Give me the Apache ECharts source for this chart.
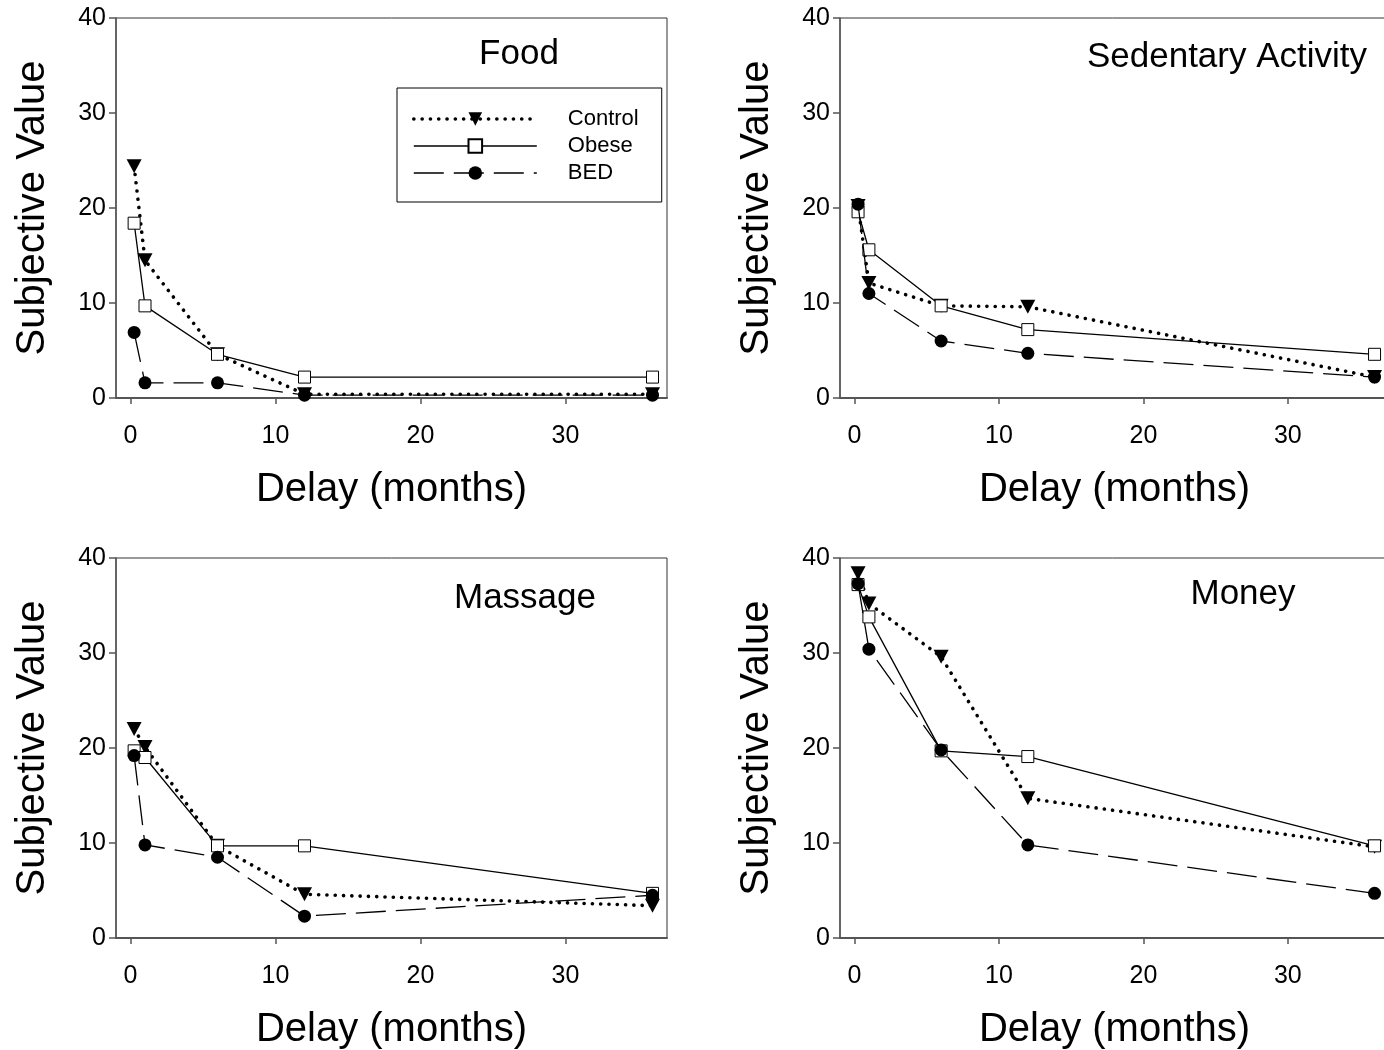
<!DOCTYPE html>
<html>
<head>
<meta charset="utf-8">
<script src="https://cdn.jsdelivr.net/npm/echarts@6/dist/echarts.min.js"></script>
<style>
html,body{margin:0;padding:0;background:#fff;}
#chart{width:1384px;height:1050px;}
</style>
</head>
<body>
<div id="chart"></div>
<script>
const delays = [0.25, 1, 6, 12, 36];
const xTicks = [0, 10, 20, 30];
const seriesNames = ['Control', 'Obese', 'BED'];
const panelTitles = ['Food', 'Sedentary Activity', 'Massage', 'Money'];

const foodControl = [24.4, 14.5, 4.6, 0.4, 0.4];
const foodObese = [18.4, 9.7, 4.6, 2.2, 2.2];
const foodBED = [6.9, 1.6, 1.6, 0.3, 0.3];

const sedControl = [20.2, 12.1, 9.7, 9.6, 2.2];
const sedObese = [19.6, 15.6, 9.7, 7.2, 4.6];
const sedBED = [20.4, 11.0, 6.0, 4.7, 2.2];

const massControl = [22.0, 20.1, 9.7, 4.6, 3.4];
const massObese = [19.7, 19.0, 9.7, 9.7, 4.7];
const massBED = [19.2, 9.8, 8.5, 2.3, 4.5];

const moneyControl = [38.4, 35.2, 29.6, 14.7, 9.6];
const moneyObese = [37.2, 33.8, 19.7, 19.1, 9.7];
const moneyBED = [37.3, 30.4, 19.8, 9.8, 4.7];

const panels = [
  [foodControl, foodObese, foodBED],
  [sedControl, sedObese, sedBED],
  [massControl, massObese, massBED],
  [moneyControl, moneyObese, moneyBED]
];

const FONT = 'Liberation Sans, Arial, sans-serif';
const gridBoxes = [
  {left: 116, top: 18, width: 551, height: 380},
  {left: 840, top: 18, width: 549, height: 380},
  {left: 116, top: 558, width: 551, height: 380},
  {left: 840, top: 558, width: 549, height: 380}
];
const titlePos = [[519, 54], [1227, 57], [525, 598], [1243, 594]];

const styles = [
  {symbol: 'triangle', symbolSize: [15, 14], symbolRotate: 180,
   itemStyle: {color: '#000', borderColor: '#000', borderWidth: 0},
   lineStyle: {color: '#000', width: 3.6, type: [0.1, 8.2], cap: 'round'}},
  {symbol: 'rect', symbolSize: 12, symbolRotate: 0,
   itemStyle: {color: '#fff', borderColor: '#000', borderWidth: 1},
   lineStyle: {color: '#000', width: 1.3, type: 'solid'}},
  {symbol: 'circle', symbolSize: 13, symbolRotate: 0,
   itemStyle: {color: '#000', borderColor: '#000', borderWidth: 0},
   lineStyle: {color: '#000', width: 1.3, type: [30, 10]}}
];

const grids = [], xAxes = [], yAxes = [], series = [], graphics = [];
gridBoxes.forEach((g, i) => {
  grids.push(Object.assign({show: true, borderColor: '#333', borderWidth: 1,
    backgroundColor: 'transparent', outerBoundsMode: 'none', containLabel: false}, g));
  xAxes.push({
    type: 'value', gridIndex: i, min: -1, max: 37,
    name: 'Delay (months)', nameLocation: 'middle', nameGap: 72,
    nameTextStyle: {fontFamily: FONT, fontSize: 40, color: '#000'},
    axisLine: {show: true, onZero: false, lineStyle: {color: '#555', width: 2}},
    axisTick: {show: true, inside: false, length: 6, customValues: xTicks, lineStyle: {color: '#555', width: 1.5}},
    axisLabel: {show: true, margin: 26, customValues: xTicks, fontFamily: FONT, fontSize: 25, color: '#000'},
    splitLine: {show: false}
  });
  yAxes.push({
    type: 'value', gridIndex: i, min: 0, max: 40, interval: 10,
    name: 'Subjective Value', nameLocation: 'middle', nameGap: 63, nameRotate: 90,
    nameTextStyle: {fontFamily: FONT, fontSize: 40, color: '#000'},
    axisLine: {show: true, onZero: false, lineStyle: {color: '#555', width: 1.5}},
    axisTick: {show: true, inside: false, length: 7, lineStyle: {color: '#555', width: 1.5}},
    axisLabel: {show: true, margin: 10, fontFamily: FONT, fontSize: 25, color: '#000'},
    splitLine: {show: false}
  });
  panels[i].forEach((vals, s) => {
    const st = styles[s];
    series.push({
      type: 'line', name: seriesNames[s], xAxisIndex: i, yAxisIndex: i,
      data: delays.map((d, k) => [d, vals[k]]),
      symbol: st.symbol, symbolSize: st.symbolSize, symbolRotate: st.symbolRotate,
      showAllSymbol: true, clip: false,
      itemStyle: st.itemStyle, lineStyle: st.lineStyle,
      emphasis: {disabled: true}, z: 2 + s
    });
  });
  graphics.push({
    type: 'text', x: titlePos[i][0], y: titlePos[i][1], z: 10,
    style: {text: panelTitles[i], fontFamily: FONT, fontSize: 35, fill: '#000',
      align: 'center', verticalAlign: 'middle'}
  });
});

const chart = echarts.init(document.getElementById('chart'), null, {renderer: 'canvas'});
chart.setOption({
  animation: false,
  backgroundColor: '#fff',
  grid: grids,
  xAxis: xAxes,
  yAxis: yAxes,
  series: series,
  graphic: graphics,
  legend: {
    show: true, orient: 'vertical',
    data: seriesNames.map((n, s) => ({name: n, lineStyle: Object.assign({}, styles[s].lineStyle)})),
    left: 397, top: 88, padding: [20, 23, 18, 15],
    itemWidth: 123, itemHeight: 17, itemGap: 5,
    backgroundColor: '#fff', borderColor: '#000', borderWidth: 1,
    selectedMode: false,
    textStyle: {fontFamily: FONT, fontSize: 22, color: '#000', padding: [0, 0, 0, 26]}
  }
});
</script>
</body>
</html>
